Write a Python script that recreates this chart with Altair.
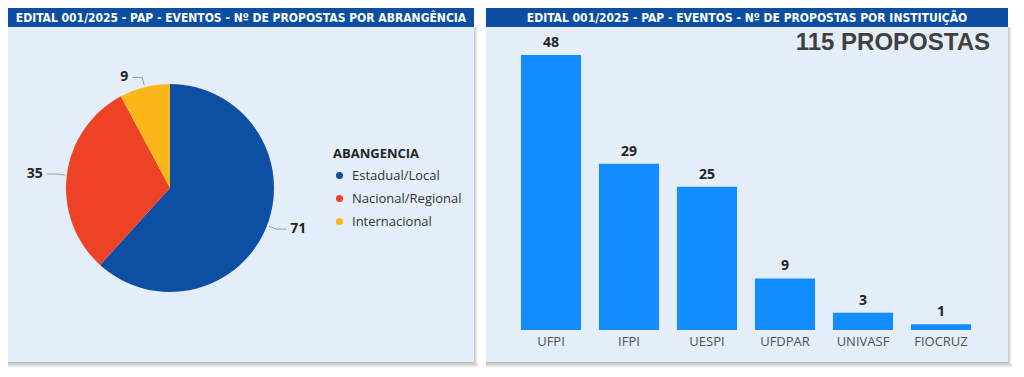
import altair as alt
import pandas as pd

# ---------------- data ----------------
abr_cat = ["Estadual/Local", "Nacional/Regional", "Internacional"]
abr_val = [71, 35, 9]
abr_col = ["#0D4FA3", "#EE4227", "#F9B71A"]

inst_cat = ["UFPI", "IFPI", "UESPI", "UFDPAR", "UNIVASF", "FIOCRUZ"]
inst_val = [48, 29, 25, 9, 3, 1]

title_left = "EDITAL 001/2025 - PAP - EVENTOS - Nº DE PROPOSTAS POR ABRANGÊNCIA"
title_right = "EDITAL 001/2025 - PAP - EVENTOS - Nº DE PROPOSTAS POR INSTITUIÇÃO"
legend_title = "ABANGENCIA"
total_suffix = " PROPOSTAS"

# ---------------- style ----------------
PANEL_BG = "#E3EEF9"
HEADER_BG = "#0B4EA2"
BAR_COL = "#118DFF"
TXT = "#252423"
W1, W2, H = 466, 522, 354
SH = 5  # shadow thickness
HDR = 19
CX, CY, R = 162, 180, 104
FONT = "Open Sans"
HFONT = "DejaVu Sans Condensed"

pie_df = pd.DataFrame({"cat": abr_cat, "val": abr_val, "ord": list(range(len(abr_cat)))})
bar_df = pd.DataFrame({"inst": inst_cat, "val": inst_val})
one = alt.Data(values=[{}])

shadow_v = alt.LinearGradient(gradient="linear", x1=0, y1=0, x2=0, y2=1,
                              stops=[alt.GradientStop(offset=0, color="#b5b5b5"),
                                     alt.GradientStop(offset=1, color="#ffffff")])
shadow_h = alt.LinearGradient(gradient="linear", x1=0, y1=0, x2=1, y2=0,
                              stops=[alt.GradientStop(offset=0, color="#c5c5c5"),
                                     alt.GradientStop(offset=1, color="#ffffff")])


def frame(w, title, fs):
    bg = alt.Chart(one).mark_rect(fill=PANEL_BG).encode(
        x=alt.value(0), x2=alt.value(w), y=alt.value(0), y2=alt.value(H))
    sb = alt.Chart(one).mark_rect(fill=shadow_v).encode(
        x=alt.value(0), x2=alt.value(w + SH - 1), y=alt.value(H), y2=alt.value(H + SH + 1))
    sr = alt.Chart(one).mark_rect(fill=shadow_h).encode(
        x=alt.value(w), x2=alt.value(w + SH - 1), y=alt.value(HDR), y2=alt.value(H + 2))
    hdr = alt.Chart(one).mark_rect(fill=HEADER_BG).encode(
        x=alt.value(0), x2=alt.value(w), y=alt.value(0), y2=alt.value(HDR))
    ht = alt.Chart(one).mark_text(font=HFONT, fontWeight="bold", fontSize=fs, color="white",
                                  align="center", baseline="middle", limit=w - 4).encode(
        x=alt.value(w / 2), y=alt.value(HDR / 2 + 0.5), text=alt.value(title))
    return [sb, sr, bg, hdr, ht]


# ---------------- left: pie ----------------
pie = alt.Chart(pie_df).mark_arc(outerRadius=R).encode(
    theta=alt.Theta("val:Q", stack=True),
    order=alt.Order("ord:Q"),
    color=alt.Color("cat:N", sort=abr_cat,
                    scale=alt.Scale(domain=abr_cat, range=abr_col),
                    legend=alt.Legend(title=legend_title, orient="none", legendX=325, legendY=140,
                                      titleFont=FONT, titleFontSize=13, titleFontWeight="bold",
                                      titleColor=TXT, labelFont=FONT, labelFontSize=13,
                                      labelColor="#333333", symbolType="circle", symbolSize=50,
                                      symbolStrokeWidth=0, rowPadding=9, titlePadding=8,
                                      labelOffset=6)),
    x=alt.value(CX), y=alt.value(CY),
)

geo = alt.Chart(pie_df).transform_joinaggregate(total="sum(val)").transform_window(
    cum="sum(val)", sort=[alt.SortField("ord")], frame=[None, 0]
).transform_calculate(
    mid="(datum.cum - datum.val/2)/datum.total*2*PI",
).transform_calculate(
    side="sin(datum.mid) >= 0 ? 1 : -1",
    x1=f"{CX} + {R + 2}*sin(datum.mid)",
    y1=f"{CY} - {R + 2}*cos(datum.mid)",
    x2=f"{CX} + {R + 10}*sin(datum.mid)",
    y2=f"{CY} - {R + 10}*cos(datum.mid)",
).transform_calculate(
    x3="datum.x2 + datum.side*10",
    tx="datum.x2 + datum.side*14",
)

lead1 = geo.mark_rule(color="#9a9a9a", strokeWidth=1).encode(
    x=alt.X("x1:Q", scale=None), x2="x2:Q", y=alt.Y("y1:Q", scale=None), y2="y2:Q")
lead2 = geo.mark_rule(color="#9a9a9a", strokeWidth=1).encode(
    x=alt.X("x2:Q", scale=None), x2="x3:Q", y=alt.Y("y2:Q", scale=None))
lab_r = geo.transform_filter("datum.side > 0").mark_text(
    align="left", baseline="middle", font=FONT, fontWeight="bold", fontSize=14, color=TXT).encode(
    x=alt.X("tx:Q", scale=None), y=alt.Y("y2:Q", scale=None), text="val:Q")
lab_l = geo.transform_filter("datum.side < 0").mark_text(
    align="right", baseline="middle", font=FONT, fontWeight="bold", fontSize=14, color=TXT).encode(
    x=alt.X("tx:Q", scale=None), y=alt.Y("y2:Q", scale=None), text="val:Q")

left = alt.layer(*frame(W1, title_left, 12), pie, lead1, lead2, lab_l, lab_r).properties(
    width=W1 + SH - 1, height=H + SH)

# ---------------- right: bars ----------------
xsc = alt.Scale(domain=inst_cat, range=[26, 494], paddingInner=0.23, paddingOuter=0.115)
ysc = alt.Scale(range=[322, 47], nice=False, zero=True)

base = alt.Chart(bar_df).encode(
    x=alt.X("inst:N", sort=inst_cat, scale=xsc, axis=None))
bars = base.mark_bar(color=BAR_COL).encode(y=alt.Y("val:Q", scale=ysc, axis=None))
vals = base.mark_text(baseline="alphabetic", dy=-8, font=FONT, fontWeight="bold",
                      fontSize=14, color=TXT).encode(
    y=alt.Y("val:Q", scale=ysc, axis=None), text="val:Q")
cats = base.mark_text(baseline="middle", font=FONT, fontSize=13, color="#505050").encode(
    y=alt.value(334), text="inst:N")
total = alt.Chart(bar_df).transform_aggregate(total="sum(val)").transform_calculate(
    lbl=f"datum.total + '{total_suffix}'"
).mark_text(align="right", baseline="middle", font="Liberation Sans", fontWeight="bold",
            fontSize=24, color="#404040").encode(
    x=alt.value(504), y=alt.value(35), text="lbl:N")

right = alt.layer(*frame(W2, title_right, 12), bars, vals, cats, total).properties(
    width=W2 + SH - 1, height=H + SH)

chart = alt.hconcat(left, right, spacing=8).properties(
    padding=0, background="white"
).configure_view(stroke=None).resolve_scale(color="independent")

chart.save("out.html", embed_options={"renderer": "svg", "actions": False})
